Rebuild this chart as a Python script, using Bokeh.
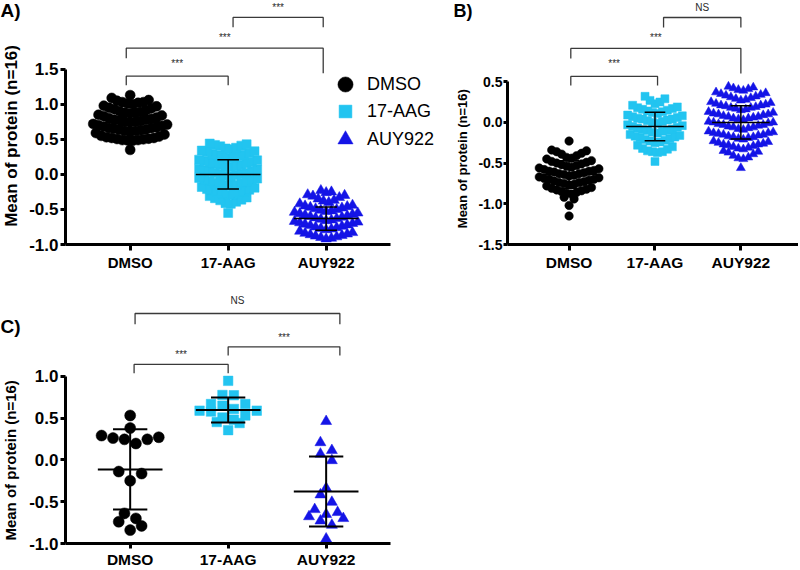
import math
from bokeh.plotting import figure
from bokeh.models import (Range1d, FixedTicker, PrintfTickFormatter,
                          Legend, LegendItem)
from bokeh.layouts import column, row
from bokeh.embed import file_html
from bokeh.resources import INLINE
from bokeh.core.properties import value

# ---------------- data ----------------
categories = ["DMSO", "17-AAG", "AUY922"]
colors = ["#000000", "#22c4f0", "#1414e6"]
markers = ["circle", "square", "triangle"]

a_dmso = [0.35,
          0.48, 0.485, 0.49, 0.49, 0.50, 0.505, 0.51, 0.52, 0.52, 0.53, 0.54, 0.55, 0.57, 0.59,
          0.61, 0.62, 0.62, 0.63, 0.635, 0.64, 0.65, 0.66, 0.66, 0.67, 0.68, 0.69, 0.70, 0.71, 0.72,
          0.74, 0.75, 0.75, 0.76, 0.77, 0.78, 0.78, 0.79, 0.80, 0.81, 0.83, 0.84, 0.85,
          0.87, 0.88, 0.88, 0.89, 0.90, 0.91, 0.93, 0.94, 0.95, 0.97, 0.98,
          1.00, 1.01, 1.02, 1.03, 1.03, 1.05, 1.06, 1.09,
          1.13]
a_17aag = [-0.55,
           -0.42, -0.41, -0.39, -0.37, -0.36, -0.34, -0.33, -0.31,
           -0.29, -0.28, -0.27, -0.26, -0.25, -0.24, -0.23, -0.22, -0.21, -0.19, -0.18,
           -0.16, -0.15, -0.15, -0.13, -0.12, -0.12, -0.10, -0.09, -0.08, -0.07, -0.06, -0.05,
           -0.03, -0.02, -0.01, 0.00, 0.01, 0.02, 0.02, 0.04, 0.05, 0.06, 0.07, 0.08,
           0.10, 0.11, 0.12, 0.13, 0.13, 0.15, 0.16, 0.17, 0.18, 0.19, 0.20, 0.21,
           0.23, 0.24, 0.25, 0.26, 0.27, 0.28, 0.29, 0.31, 0.32, 0.33, 0.34,
           0.36, 0.37, 0.38, 0.40, 0.41, 0.42, 0.43, 0.44]
a_auy922 = [-0.92, -0.91, -0.90, -0.89, -0.88, -0.87, -0.86, -0.85, -0.84, -0.83, -0.81,
            -0.79, -0.78, -0.77, -0.76, -0.75, -0.74, -0.73, -0.72, -0.71, -0.70, -0.69, -0.68, -0.67,
            -0.66, -0.65, -0.64, -0.63, -0.62, -0.61, -0.60, -0.59, -0.58, -0.57, -0.56, -0.55, -0.54,
            -0.53, -0.52, -0.51, -0.50, -0.49, -0.48, -0.47, -0.46, -0.45, -0.44, -0.42,
            -0.40, -0.38, -0.37, -0.35, -0.33, -0.31, -0.30, -0.29,
            -0.26, -0.25, -0.23]
a_mean = [0.74, 0.00, -0.63]
a_sd = [0.15, 0.21, 0.165]

b_dmso = [-1.15,
          -1.02, -0.94, -0.92,
          -0.88, -0.87, -0.86, -0.85, -0.84, -0.83, -0.82, -0.81, -0.80, -0.78,
          -0.77, -0.76, -0.75, -0.74, -0.74, -0.73, -0.72, -0.71, -0.70, -0.70, -0.69, -0.68, -0.67,
          -0.66, -0.65, -0.64, -0.63, -0.63, -0.62, -0.61, -0.60, -0.60, -0.59, -0.58, -0.57, -0.56,
          -0.55, -0.54, -0.53, -0.52, -0.51, -0.50, -0.49, -0.48, -0.47, -0.45,
          -0.44, -0.43, -0.41, -0.39, -0.38, -0.36, -0.35, -0.34,
          -0.23]
b_17aag = [-0.48,
           -0.37, -0.36, -0.36, -0.35, -0.33, -0.32, -0.30, -0.28,
           -0.25, -0.24, -0.23, -0.22, -0.21, -0.20, -0.19, -0.18, -0.17, -0.16, -0.15,
           -0.13, -0.12, -0.11, -0.10, -0.10, -0.09, -0.08, -0.07, -0.06, -0.05, -0.04, -0.03,
           -0.01, 0.00, 0.01, 0.02, 0.03, 0.04, 0.04, 0.05, 0.06, 0.07, 0.08, 0.09,
           0.11, 0.12, 0.13, 0.14, 0.15, 0.16, 0.17, 0.18, 0.19, 0.21,
           0.23, 0.25, 0.27, 0.29, 0.32]
b_auy922 = [-0.56,
            -0.45, -0.44, -0.43, -0.41, -0.39, -0.37, -0.36, -0.35,
            -0.33, -0.32, -0.31, -0.30, -0.29, -0.28, -0.27, -0.27, -0.26, -0.25, -0.24, -0.23,
            -0.21, -0.20, -0.19, -0.18, -0.18, -0.17, -0.16, -0.15, -0.15, -0.14, -0.13, -0.13, -0.12, -0.11,
            -0.09, -0.08, -0.07, -0.06, -0.06, -0.05, -0.04, -0.03, -0.03, -0.02, -0.01, 0.00, 0.00, 0.01,
            0.03, 0.04, 0.05, 0.05, 0.06, 0.07, 0.07, 0.08, 0.09, 0.10, 0.10, 0.11, 0.12, 0.13,
            0.15, 0.16, 0.17, 0.18, 0.18, 0.19, 0.20, 0.21, 0.21, 0.22, 0.23, 0.24, 0.25,
            0.27, 0.28, 0.29, 0.30, 0.31, 0.32, 0.33, 0.34, 0.35, 0.36, 0.37,
            0.39, 0.40, 0.41, 0.42, 0.43, 0.44]
b_mean = [-0.64, -0.05, 0.00]
b_sd = [0.17, 0.175, 0.205]

c_dmso = [0.53, 0.38, 0.29, 0.26, 0.245, 0.195, 0.245, 0.27,
          -0.14, -0.164, -0.25, -0.64, -0.70, -0.74, -0.79, -0.84]
c_17aag = [0.944, 0.775, 0.772, 0.667, 0.667, 0.588, 0.577, 0.608,
           0.647, 0.588, 0.506, 0.48, 0.53, 0.452, 0.44, 0.355]
c_auy922 = [0.46, 0.207, 0.113, 0.07, -0.008, -0.339, -0.417, -0.506,
            -0.593, -0.628, -0.651, -0.678, -0.70, -0.729, -0.78, -0.944]
c_mean = [-0.115, 0.595, -0.378]
c_sd = [0.48, 0.15, 0.418]

# significance annotations: (group i, group j, label)
a_tests = [(1, 2, "***"), (0, 2, "***"), (0, 1, "***")]
b_tests = [(1, 2, "NS"), (0, 2, "***"), (0, 1, "***")]
c_tests = [(0, 2, "NS"), (1, 2, "***"), (0, 1, "***")]

y_title = "Mean of protein (n=16)"
panel_tags = ["A)", "B)", "C)"]
FONT = "Liberation Sans"


# ---------------- helpers ----------------
def offsets(n):
    out = []
    if n % 2 == 1:
        out.append(0.0)
        k = 1.0
        while len(out) < n:
            out.append(k)
            if len(out) < n:
                out.append(-k)
            k += 1
    else:
        k = 0.5
        while len(out) < n:
            out.append(k)
            out.append(-k)
            k += 1
    return out


def swarm(vals, center, h, step_px, ppu):
    """GraphPad-like column scatter: values grouped into rows of height h,
    lowest value of a row in the middle, higher ones further out."""
    v = sorted(vals)
    xs, ys = [], []
    i = 0
    while i < len(v):
        start = v[i]
        g = []
        while i < len(v) and v[i] < start + h - 1e-9:
            g.append(v[i])
            i += 1
        for val, o in zip(g, offsets(len(g))):
            xs.append(center + o * step_px / ppu)
            ys.append(val)
    return xs, ys


def make_strip(w, h, items):
    """Narrow figure that carries the panel letter and the rotated y title."""
    s = figure(width=w, height=h, x_range=Range1d(0, w), y_range=Range1d(0, h),
               output_backend="svg", toolbar_location=None, min_border=0,
               x_axis_location=None, y_axis_location=None)
    s.xgrid.visible = False
    s.ygrid.visible = False
    s.outline_line_color = None
    s.background_fill_color = "white"
    s.border_fill_color = "white"
    for (x, ytop, txt, ang, size, align) in items:
        s.text(x=[x], y=[h - ytop], text=[txt], angle=ang, text_align=align,
               text_baseline="middle", text_font=value(FONT),
               text_font_style="bold", text_font_size=size, text_color="black")
    return s


def make_panel(cfg, groups, means, sds, tests):
    p = figure(width=cfg["w"], height=cfg["h"],
               x_range=Range1d(*cfg["xr"]), y_range=Range1d(*cfg["yr"]),
               output_backend="svg", toolbar_location=None,
               min_border_left=cfg["mbl"], min_border_right=0,
               min_border_top=0, min_border_bottom=cfg["mbb"])
    p.outline_line_color = None
    p.xgrid.visible = False
    p.ygrid.visible = False
    p.background_fill_color = "white"
    p.border_fill_color = "white"

    rends = []
    for i, vals in enumerate(groups):
        xs, ys = swarm(vals, i, cfg["bin"], cfg["step"], cfg["ppu"])
        r = p.scatter(xs, ys, marker=markers[i], size=cfg["msize"][i],
                      fill_color=colors[i], line_color=colors[i], line_width=0.5)
        rends.append(r)

    # mean and SD bars
    mw, cw = cfg["meanw"], cfg["capw"]
    for i in range(3):
        m, s = means[i], sds[i]
        p.segment(x0=[i - mw, i, i - cw, i - cw], y0=[m, m - s, m + s, m - s],
                  x1=[i + mw, i, i + cw, i + cw], y1=[m, m + s, m + s, m - s],
                  line_color="black", line_width=cfg["barlw"])

    # brackets
    tx, ty, tt = [], [], []
    for (gi, gj, lab), geo in zip(tests, cfg["brackets"]):
        xa, xb, ybar, yl, yr_, ytxt = geo
        p.line([xa, xa, xb, xb], [yl, ybar, ybar, yr_], line_color="#3a3a3a",
               line_width=1.3)
        tx.append((xa + xb) / 2)
        ty.append(ytxt)
        tt.append(lab)
    p.text(x=tx, y=ty, text=tt, text_align="center", text_baseline="middle",
           text_font=value(FONT), text_font_size="10px", text_color="#2a2a2a")

    # axes
    for ax in (p.xaxis[0], p.yaxis[0]):
        ax.axis_line_width = 3
        ax.axis_line_color = "black"
        ax.major_tick_line_width = 3
        ax.major_tick_line_color = "black"
        ax.major_tick_in = 0
        ax.minor_tick_line_color = None
        ax.major_label_text_font = FONT
        ax.major_label_text_font_style = "bold"
        ax.major_label_text_color = "black"
    p.xaxis.ticker = FixedTicker(ticks=[0, 1, 2])
    p.xaxis.major_label_overrides = {i: c for i, c in enumerate(categories)}
    p.xaxis.bounds = (cfg["xr"][0], cfg["xend"])
    p.xaxis.major_tick_out = cfg["xto"]
    p.xaxis.major_label_standoff = cfg["xso"]
    p.xaxis.major_label_text_font_size = cfg["xfs"]
    p.yaxis.ticker = FixedTicker(ticks=cfg["yticks"])
    p.yaxis.formatter = PrintfTickFormatter(format="%.1f")
    p.yaxis.bounds = (cfg["yticks"][0], cfg["yticks"][-1])
    p.yaxis.major_tick_out = cfg["yto"]
    p.yaxis.major_label_standoff = cfg["yso"]
    p.yaxis.major_label_text_font_size = cfg["yfs"]
    return p, rends


cfgA = dict(w=419, h=290, xr=(-0.66, 3.218), yr=(-1.0, 2.48), mbl=37, mbb=45,
            xend=2.66, yticks=[-1.0, -0.5, 0.0, 0.5, 1.0, 1.5], ppu=98.5,
            bin=0.13, step=5.3, msize=[10, 9, 10.5],
            meanw=0.33, capw=0.11, barlw=1.5, xfs="15px", yfs="17px",
            xto=6, xso=3, yto=5, yso=2,
            brackets=[(1.05, 1.97, 2.239, 2.097, 2.097, 2.38),
                      (-0.04, 1.97, 1.80, 1.656, 1.443, 1.955),
                      (-0.04, 1.00, 1.40, 1.273, 1.273, 1.585)])
cfgB = dict(w=323, h=290, xr=(-0.717, 2.671), yr=(-1.5, 1.497), mbl=30, mbb=46,
            xend=2.671, yticks=[-1.5, -1.0, -0.5, 0.0, 0.5], ppu=86.5,
            bin=0.11, step=5.0, msize=[8.5, 8, 9],
            meanw=0.335, capw=0.12, barlw=1.5, xfs="15.5px", yfs="14px",
            xto=6, xso=3, yto=4, yso=1,
            brackets=[(1.10, 2.00, 1.288, 1.166, 1.166, 1.411),
                      (0.02, 2.00, 0.908, 0.785, 0.601, 1.043),
                      (0.02, 1.03, 0.564, 0.454, 0.454, 0.724)])
cfgC = dict(w=419, h=280, xr=(-0.66, 3.218), yr=(-1.0, 2.024), mbl=37, mbb=26,
            xend=2.66, yticks=[-1.0, -0.5, 0.0, 0.5, 1.0], ppu=98.5,
            bin=0.12, step=11.5, msize=[11, 9.5, 11],
            meanw=0.33, capw=0.175, barlw=2.0, xfs="15.5px", yfs="17px",
            xto=5, xso=2, yto=5, yso=2,
            brackets=[(0.05, 2.14, 1.749, 1.62, 1.62, 1.90),
                      (1.00, 2.14, 1.351, 1.246, 1.246, 1.468),
                      (0.04, 1.00, 1.14, 1.035, 1.035, 1.257)])

pA, rA = make_panel(cfgA, [a_dmso, a_17aag, a_auy922], a_mean, a_sd, a_tests)
pB, _ = make_panel(cfgB, [b_dmso, b_17aag, b_auy922], b_mean, b_sd, b_tests)
pC, _ = make_panel(cfgC, [c_dmso, c_17aag, c_auy922], c_mean, c_sd, c_tests)

# legend of panel A: one Legend per entry so that rows can sit closer than glyph size
leg_rows = [(141, 38), (114, 32), (86, 38)]
for i, (ybot, gsz) in enumerate(leg_rows):
    off = (38 - gsz) / 2
    lg = Legend(items=[LegendItem(label=categories[i], renderers=[rA[i]])],
                location=(int(261 + off), int(ybot + off)), orientation="vertical",
                glyph_width=gsz, glyph_height=gsz, padding=0, margin=0, spacing=0,
                label_standoff=int(3 + off), label_text_font=FONT,
                label_text_font_size="18px", label_text_color="black",
                label_height=20, border_line_color=None, background_fill_alpha=0)
    pA.add_layout(lg)

# y titles (anchor positions corrected for the upward drift seen in the render)
sA = make_strip(26, 290, [(0, 12, panel_tags[0], 0, "19px", "left"),
                          (11, 161, y_title, math.pi / 2, "17px", "center")])
sB = make_strip(30, 290, [(8, 12, panel_tags[1], 0, "18px", "left"),
                          (17, 188, y_title, math.pi / 2, "13px", "center")])
sC = make_strip(26, 280, [(0, 40, panel_tags[2], 0, "19px", "left"),
                          (10, 188, y_title, math.pi / 2, "15px", "center")])

layout = column(row(sA, pA, sB, pB), row(sC, pC))
open("out.html", "w").write(file_html(layout, INLINE))
